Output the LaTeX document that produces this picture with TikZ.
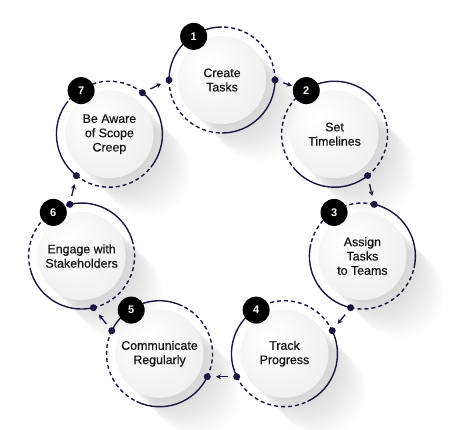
\documentclass[tikz,border=0pt]{standalone}
\usepackage{fontspec}
\setmainfont{Liberation Sans}
\newfontfamily\labelfont[FakeBold=0.5]{Liberation Sans}
\usetikzlibrary{arrows.meta,calc}
\definecolor{ring}{HTML}{1C1642}
\definecolor{txt}{HTML}{141414}
\pgfdeclareradialshading{diskshade}{\pgfpoint{-10bp}{10bp}}{color(0bp)=(white); color(16bp)=(white!97!black); color(40bp)=(white!92!black); color(50bp)=(white!88!black)}
\begin{document}
\begin{tikzpicture}[x=1pt,y=1pt,
  disk/.style={circle, minimum size=88pt, inner sep=0pt, shading=diskshade, align=center, font=\labelfont\fontsize{12.4}{14.3}\selectfont, text=txt},
  solidarc/.style={draw=ring, line width=1.4pt},
  dasharc/.style={draw=ring, line width=1.4pt, dash pattern=on 4pt off 3pt},
  dot/.style={circle, fill=ring, minimum size=7pt, inner sep=0pt},
  badge/.style={circle, fill=black, minimum size=27pt, inner sep=0pt, text=white, font=\fontsize{11}{13}\selectfont\bfseries},
  flow/.style={draw=ring, line width=1.3pt, -{Stealth[length=5pt,width=5pt]}, shorten <=5pt, shorten >=5pt}]
\useasboundingbox (0,0) rectangle (452,430);
\coordinate (O) at (222,206);
% long soft shadows
\foreach \i in {1,...,7}{
  \pgfmathsetmacro\th{90-(\i-1)*360/7}
  \foreach \k in {1,...,20}{
    \fill[black, opacity=0.009] ($(O)+(\th:144)+(\k*1.9,-\k*1.9)$) circle (44pt);
  }
}
% disks with text
\foreach \i/\t in {1/{Create\\Tasks}, 2/{Set\\Timelines}, 3/{Assign\\Tasks\\to Teams}, 4/{Track\\Progress}, 5/{Communicate\\Regularly}, 6/{Engage with\\Stakeholders}, 7/{Be Aware\\of Scope\\Creep}}{
  \pgfmathsetmacro\th{90-(\i-1)*360/7}
  \node[disk] (c\i) at ($(O)+(\th:144)$) {\t};
}
% rings, dots, badges
\foreach \i in {1,...,7}{
  \pgfmathsetmacro\th{90-(\i-1)*360/7}
  \draw[solidarc] ($(c\i.center)+(\th:53pt)$) arc[start angle=\th, end angle=\th+90, radius=53pt];
  \draw[dasharc] ($(c\i.center)+(\th+90:53pt)$) arc[start angle=\th+90, end angle=\th+180, radius=53pt];
  \draw[solidarc] ($(c\i.center)+(\th+180:53pt)$) arc[start angle=\th+180, end angle=\th+270, radius=53pt];
  \draw[dasharc] ($(c\i.center)+(\th-90:53pt)$) arc[start angle=\th-90, end angle=\th, radius=53pt];
  \node[dot] (in\i) at ($(c\i.center)+(\th+90:53pt)$) {};
  \node[dot] (out\i) at ($(c\i.center)+(\th-90:53pt)$) {};
  \node[badge] (b\i) at ($(c\i.center)+(123:52pt)$) {\i};
}
% connectors
\draw[flow, shorten >=1.5pt] (out1) -- (b2);
\draw[flow] (out2) -- (in3);
\draw[flow] (out3) -- (in4);
\draw[flow] (out4) -- (in5);
\draw[flow] (out5) -- (in6);
\draw[flow] (out6) -- (in7);
\draw[flow] (out7) -- (in1);
\end{tikzpicture}
\end{document}
